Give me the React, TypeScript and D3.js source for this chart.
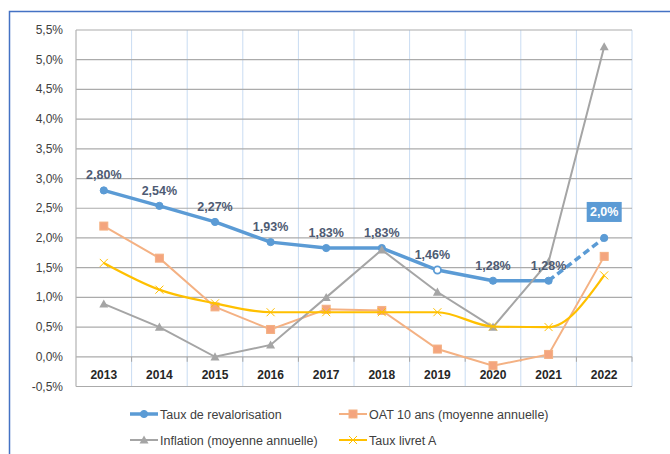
import * as d3 from "d3";

const years = ["2013", "2014", "2015", "2016", "2017", "2018", "2019", "2020", "2021", "2022"];
const revalo = [2.8, 2.54, 2.27, 1.93, 1.83, 1.83, 1.46, 1.28, 1.28, 2.0];
const revaloLabels = ["2,80%", "2,54%", "2,27%", "1,93%", "1,83%", "1,83%", "1,46%", "1,28%", "1,28%", "2,0%"];
const oat = [2.2, 1.66, 0.84, 0.46, 0.8, 0.78, 0.13, -0.15, 0.04, 1.69];
const inflation = [0.89, 0.5, 0.0, 0.2, 1.0, 1.8, 1.09, 0.5, 1.6, 5.22];
const livretA = [1.58, 1.13, 0.9, 0.75, 0.75, 0.75, 0.75, 0.51, 0.5, 1.37];
const yTicks = [-0.5, 0, 0.5, 1, 1.5, 2, 2.5, 3, 3.5, 4, 4.5, 5, 5.5];

const W = 670;
const H = 454;
const left = 76;
const right = 632;
const top = 30;
const bottom = 386.5;

const BLUE = "#5B9BD5";
const ORANGE = "#F4B183";
const GRAY = "#A5A5A5";
const YELLOW = "#FFC000";

const fmt = (v: number) => v.toFixed(1).replace(".", ",") + "%";

export default function App() {
  const x = d3.scaleBand().domain(years).range([left, right]);
  const y = d3.scaleLinear().domain([-0.5, 5.5]).range([bottom, top]);
  const cx = (i: number) => (x(years[i]) as number) + x.bandwidth() / 2;

  const line = d3
    .line<number>()
    .x((_, i) => cx(i))
    .y((d) => y(d));
  const smooth = d3
    .line<number>()
    .x((_, i) => cx(i))
    .y((d) => y(d))
    .curve(d3.curveMonotoneX);

  const solidBlue = revalo.slice(0, 9);
  const dashBlue = d3
    .line<number>()
    .x((_, i) => cx(i + 8))
    .y((d) => y(d))(revalo.slice(8));

  const tri = (px: number, py: number, s = 4.5) =>
    `M${px},${py - s}L${px + s},${py + s * 0.8}L${px - s},${py + s * 0.8}Z`;
  const cross = (px: number, py: number, s = 4) =>
    `M${px - s},${py - s}L${px + s},${py + s}M${px - s},${py + s}L${px + s},${py - s}`;

  const legend = [
    { name: "Taux de revalorisation", color: BLUE, kind: "circle", lx: 130, ly: 414, w: 3.5 },
    { name: "OAT 10 ans (moyenne annuelle)", color: ORANGE, kind: "square", lx: 339, ly: 414, w: 2 },
    { name: "Inflation (moyenne annuelle)", color: GRAY, kind: "tri", lx: 130, ly: 440, w: 2 },
    { name: "Taux livret A", color: YELLOW, kind: "cross", lx: 339, ly: 440, w: 2 },
  ];

  const marker = (kind: string, color: string, px: number, py: number, key: any, hollow = false) => {
    if (kind === "circle")
      return <circle key={key} cx={px} cy={py} r={3.6} fill={hollow ? "#fff" : color} stroke={color} strokeWidth={hollow ? 1.8 : 1} />;
    if (kind === "square")
      return <rect key={key} x={px - 4} y={py - 4} width={8} height={8} fill="#F4A57E" stroke={ORANGE} strokeWidth={1} />;
    if (kind === "tri") return <path key={key} d={tri(px, py)} fill={GRAY} />;
    return <path key={key} d={cross(px, py)} stroke={YELLOW} strokeWidth={1} fill="none" />;
  };

  return (
    <svg width={W} height={H} style={{ position: "absolute", left: 0, top: 0, background: "#fff" }} fontFamily="'Liberation Sans', Arial, sans-serif">
      <rect x={0} y={0} width={W} height={H} fill="#fff" />
      <path d={`M9.5,${H}V11.5H${W}`} fill="none" stroke="#4472C4" strokeWidth={1.5} />

      {/* vertical light blue grid */}
      {years.map((yr) => (
        <line key={yr} x1={(x(yr) as number) + x.bandwidth()} x2={(x(yr) as number) + x.bandwidth()} y1={top} y2={bottom} stroke="#C9DCF2" strokeWidth={1} />
      ))}
      {/* horizontal grid */}
      {yTicks.map((t) => (
        <line key={t} x1={left} x2={right} y1={y(t)} y2={y(t)} stroke="#ABABAB" strokeWidth={1.2} />
      ))}
      <line x1={left} x2={left} y1={top} y2={bottom} stroke="#B3B3B3" strokeWidth={1.2} />
      {years.map((yr) => (
        <line key={"t" + yr} x1={(x(yr) as number) + x.bandwidth()} x2={(x(yr) as number) + x.bandwidth()} y1={y(0)} y2={y(0) + 5} stroke="#A6A6A6" />
      ))}

      {yTicks.map((t) => (
        <text key={"l" + t} x={63} y={y(t) + 4} textAnchor="end" fontSize={12} fill="#404040">
          {fmt(t)}
        </text>
      ))}
      {years.map((yr, i) => (
        <text key={"c" + yr} x={cx(i)} y={y(0) + 22.5} textAnchor="middle" fontSize={12} fontWeight="bold" fill="#262626">
          {yr}
        </text>
      ))}

      {/* series */}
      <path d={line(solidBlue) as string} fill="none" stroke={BLUE} strokeWidth={3.5} strokeLinejoin="round" />
      <path d={dashBlue as string} fill="none" stroke={BLUE} strokeWidth={3.5} strokeDasharray="7,4" />
      {revalo.map((v, i) => marker("circle", BLUE, cx(i), y(v), "b" + i, i === 6))}

      <path d={line(oat) as string} fill="none" stroke={ORANGE} strokeWidth={2} />
      {oat.map((v, i) => marker("square", ORANGE, cx(i), y(v), "o" + i))}

      <path d={line(inflation) as string} fill="none" stroke={GRAY} strokeWidth={2} />
      {inflation.map((v, i) => marker("tri", GRAY, cx(i), y(v), "g" + i))}

      <path d={smooth(livretA) as string} fill="none" stroke={YELLOW} strokeWidth={2.2} />
      {livretA.map((v, i) => marker("cross", YELLOW, cx(i), y(v), "y" + i))}

      {/* data labels */}
      {revalo.slice(0, 9).map((v, i) => (
        <text key={"dl" + i} x={cx(i) - (i === 6 ? 5 : 0)} y={y(v) - 11} textAnchor="middle" fontSize={12.5} fontWeight="bold" fill="#4E5B73">
          {revaloLabels[i]}
        </text>
      ))}
      <rect x={cx(9) - 17.5} y={y(revalo[9]) - 36} width={35} height={20} fill={BLUE} />
      <text x={cx(9)} y={y(revalo[9]) - 21.5} textAnchor="middle" fontSize={12.5} fontWeight="bold" fill="#fff">
        {revaloLabels[9]}
      </text>

      {/* legend */}
      {legend.map((l) => (
        <g key={l.name}>
          <line x1={l.lx} x2={l.lx + 28} y1={l.ly} y2={l.ly} stroke={l.color} strokeWidth={l.w} />
          {marker(l.kind, l.color, l.lx + 14, l.ly, "m")}
          <text x={l.lx + 30} y={l.ly + 4.5} fontSize={12.5} fill="#404040">
            {l.name}
          </text>
        </g>
      ))}
    </svg>
  );
}
